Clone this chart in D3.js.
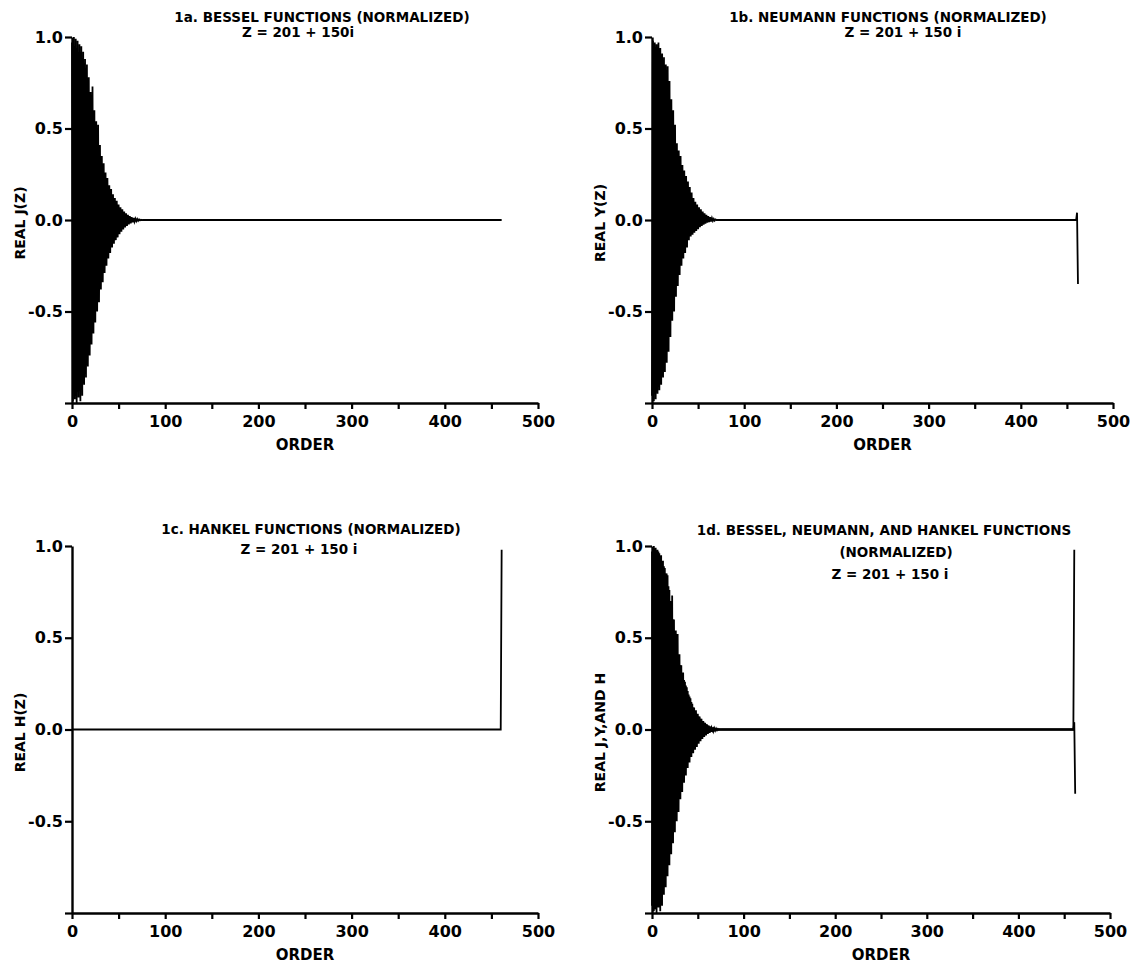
<!DOCTYPE html>
<html>
<head>
<meta charset="utf-8">
<script src="https://cdn.jsdelivr.net/npm/d3@7"></script>
<style>
  body { margin: 0; background: #fff; }
  svg { display: block; font-family: "DejaVu Sans", sans-serif; font-weight: bold; }
</style>
</head>
<body>
<div id="chart"></div>
<script>
// real part of J_n(z), normalized, orders 0..76
const besselJ = [
    0.97, -0.99, 1.00, -0.98, 0.99, -1.00, 0.98, -0.97, 0.96, -0.99,
    0.95, -0.96, 0.92, -0.90, 0.88, -0.86, 0.85, -0.80, 0.78, -0.74,
    0.70, -0.68, 0.73, -0.62, 0.60, -0.56, 0.54, -0.50, 0.52, -0.45,
    0.41, -0.38, 0.35, -0.34, 0.31, -0.29, 0.26, -0.25, 0.23, -0.21,
    0.19, -0.18, 0.17, -0.15, 0.14, -0.13, 0.12, -0.11, 0.105, -0.095,
    0.085, -0.078, 0.07, -0.064, 0.058, -0.052, 0.046, -0.041, 0.036, -0.032,
    0.028, -0.024, 0.021, -0.018, 0.015, -0.013, 0.011, -0.009, 0.007, -0.006,
    0.005, -0.004, 0.003, -0.002, 0.001, -0.001, 0.0
];
const besselTailOrders = [461];
const besselTailValues = [0.0];

// real part of Y_n(z), normalized, orders 0..70 (fig 1b)
const neumannY = [
    -0.96, 0.98, -0.99, 0.97, -0.98, 0.96, -0.95, 0.97, -0.93, 0.94,
    -0.90, 0.91, -0.86, 0.89, -0.83, 0.85, -0.78, 0.84, -0.72, 0.76,
    -0.64, 0.66, -0.55, 0.60, -0.50, 0.52, -0.42, 0.42, -0.36, 0.38,
    -0.30, 0.35, -0.25, 0.30, -0.21, 0.27, -0.18, 0.24, -0.15, 0.21,
    -0.11, 0.18, -0.09, 0.15, -0.08, 0.12, -0.07, 0.10, -0.06, 0.085,
    -0.05, 0.07, -0.04, 0.058, -0.032, 0.046, -0.026, 0.036, -0.02, 0.028,
    -0.015, 0.021, -0.011, 0.015, -0.008, 0.01, -0.005, 0.006, -0.003, 0.003,
    0.0
];
const neumannTailOrders = [460, 461, 462];
const neumannTailValues = [0.0, 0.04, -0.35];

// real part of H_n(z), normalized (fig 1c)
const hankelOrders = [0, 460, 461];
const hankelValues = [0.0, 0.0, 0.98];

const xTicks = [0, 50, 100, 150, 200, 250, 300, 350, 400, 450, 500];
const yTicks = [-1.0, -0.5, 0.0, 0.5, 1.0];

const toPoints = (head, tailOrders, tailValues) =>
    head.map((v, i) => [i, v]).concat(tailOrders.map((o, i) => [o, tailValues[i]]));

const jSeries = toPoints(besselJ, besselTailOrders, besselTailValues);
const ySeries = toPoints(neumannY, neumannTailOrders, neumannTailValues);
const hSeries = toPoints([], hankelOrders, hankelValues);

const panels = [
    { x0: 72, x1: 538, top: 37, bottom: 403, ylabel: "REAL J(Z)", series: [jSeries],
      titles: [["1a. BESSEL FUNCTIONS (NORMALIZED)", 322, 22], ["Z = 201 + 150i", 298, 37]] },
    { x0: 652, x1: 1113, top: 37, bottom: 403, ylabel: "REAL Y(Z)", series: [ySeries],
      titles: [["1b. NEUMANN FUNCTIONS (NORMALIZED)", 888, 22], ["Z = 201 + 150 i", 903, 37]] },
    { x0: 72, x1: 538, top: 546, bottom: 913, ylabel: "REAL H(Z)", series: [hSeries],
      titles: [["1c. HANKEL FUNCTIONS (NORMALIZED)", 311, 534], ["Z = 201 + 150 i", 299, 554]] },
    { x0: 652, x1: 1110, top: 546, bottom: 913, ylabel: "REAL J,Y,AND H", series: [jSeries, ySeries, hSeries],
      titles: [["1d. BESSEL, NEUMANN, AND HANKEL FUNCTIONS", 884, 535], ["(NORMALIZED)", 896, 557], ["Z = 201 + 150 i", 890, 579]] }
];

const svg = d3.select("#chart").append("svg")
    .attr("width", 1137)
    .attr("height", 969);

panels.forEach(p => {
    const x = d3.scaleLinear().domain([0, 500]).range([p.x0, p.x1]);
    const y = d3.scaleLinear().domain([-1, 1]).range([p.bottom, p.top]);
    const g = svg.append("g");

    const line = d3.line().x(d => x(d[0])).y(d => y(d[1]));
    p.series.forEach(s => {
        g.append("path")
            .datum(s)
            .attr("d", line)
            .attr("fill", "none")
            .attr("stroke", "#000")
            .attr("stroke-width", 1.8);
    });

    const xa = g.append("g")
        .attr("transform", `translate(0,${p.bottom})`)
        .call(d3.axisBottom(x).tickValues(xTicks).tickSize(6).tickSizeOuter(0).tickPadding(7)
            .tickFormat(d => d % 100 === 0 ? d : ""));
    const ya = g.append("g")
        .attr("transform", `translate(${p.x0},0)`)
        .call(d3.axisLeft(y).tickValues(yTicks).tickSize(7).tickSizeOuter(0).tickPadding(2)
            .tickFormat(d => d === -1 ? "" : d3.format(".1f")(d).replace("−", "-")));

    [xa, ya].forEach(a => {
        a.select(".domain").attr("stroke", "#000").attr("stroke-width", 2.4);
        a.selectAll(".tick line").attr("stroke", "#000").attr("stroke-width", 2.2);
        a.selectAll(".tick text").attr("fill", "#000")
            .style("font-family", "DejaVu Sans, sans-serif")
            .style("font-weight", "bold")
            .style("font-size", "16px");
    });

    g.append("text")
        .attr("x", (p.x0 + p.x1) / 2)
        .attr("y", p.bottom + 47)
        .attr("text-anchor", "middle")
        .style("font-size", "15px")
        .text("ORDER");

    g.append("text")
        .attr("transform", `translate(${p.x0 - 52},${y(0) + 3}) rotate(-90)`)
        .attr("text-anchor", "middle")
        .attr("dy", "0.35em")
        .style("font-size", "14px")
        .text(p.ylabel);

    p.titles.forEach(t => {
        g.append("text")
            .attr("x", t[1])
            .attr("y", t[2])
            .attr("text-anchor", "middle")
            .style("font-size", "13.5px")
            .text(t[0]);
    });
});
</script>
</body>
</html>
